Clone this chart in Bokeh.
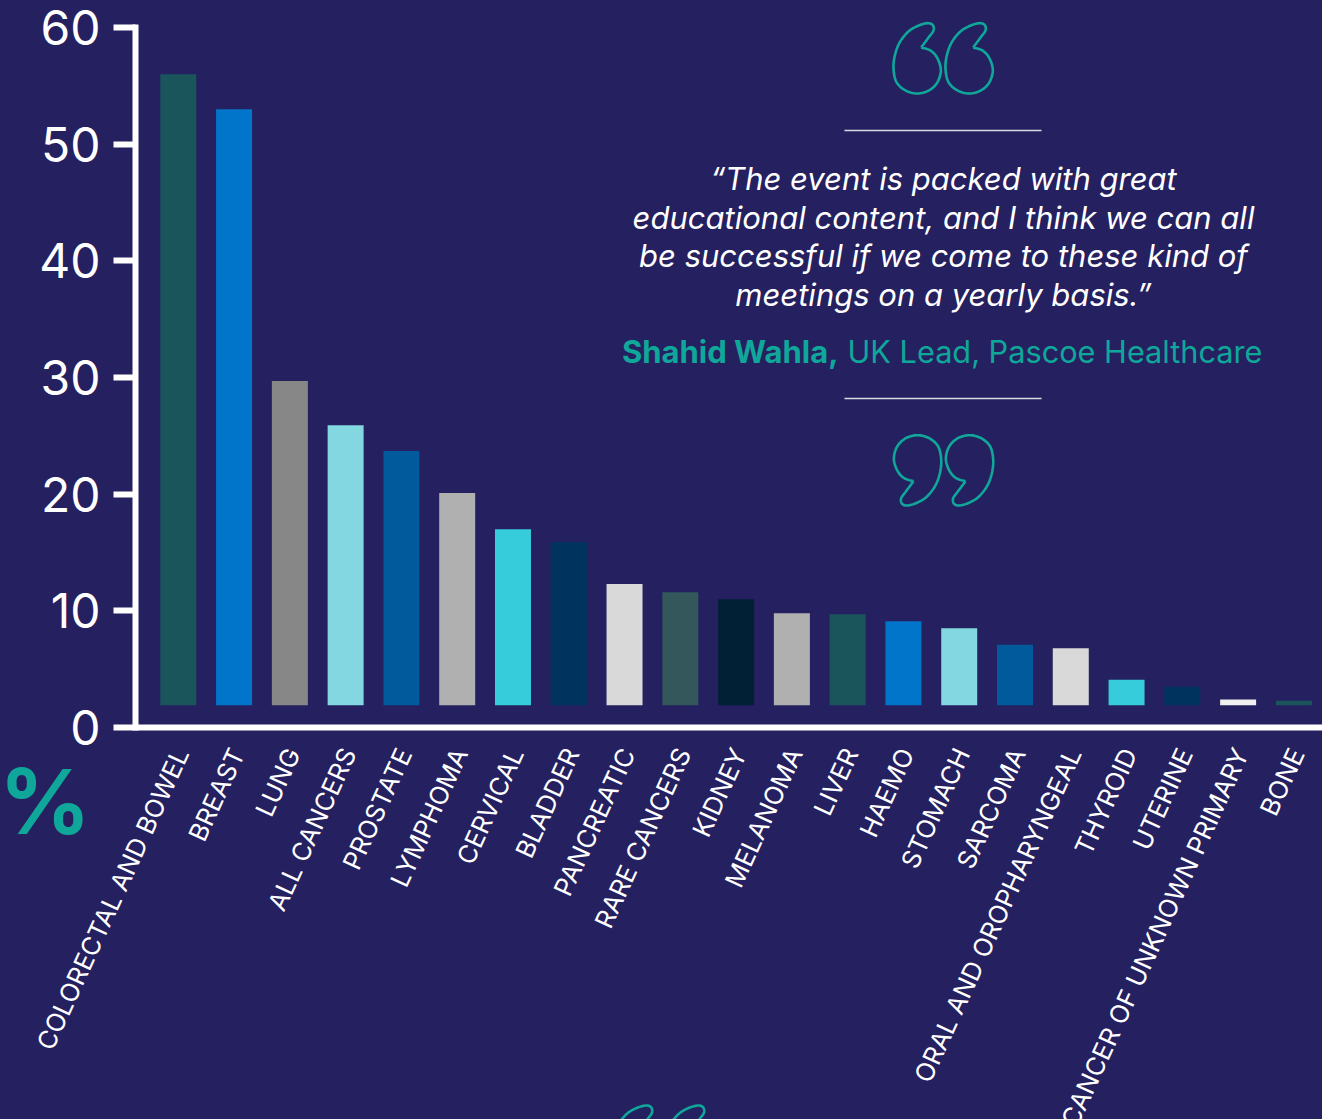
from bokeh.plotting import figure
from bokeh.models import Range1d, FixedTicker, Label
from bokeh.embed import file_html
from bokeh.resources import INLINE

categories = ["COLORECTAL AND BOWEL", "BREAST", "LUNG", "ALL CANCERS", "PROSTATE", "LYMPHOMA",
              "CERVICAL", "BLADDER", "PANCREATIC", "RARE CANCERS", "KIDNEY", "MELANOMA", "LIVER",
              "HAEMO", "STOMACH", "SARCOMA", "ORAL AND OROPHARYNGEAL", "THYROID", "UTERINE",
              "CANCER OF UNKNOWN PRIMARY", "BONE"]
values = [56.0, 53.0, 29.7, 25.9, 23.7, 20.1, 17.0, 15.9, 12.3, 11.6, 11.0, 9.8, 9.7, 9.1, 8.5,
          7.1, 6.8, 4.1, 3.5, 2.4, 2.3]
bar_colors = ["#1A555C", "#0075C9", "#878787", "#83D7E1", "#005A9C", "#B0B0B0", "#36CCDB", "#00345F",
              "#D9D9D9", "#33575B", "#012036", "#B0B0B0", "#1A555C", "#0075C9", "#83D7E1", "#005A9C",
              "#D9D9D9", "#36CCDB", "#00345F", "#F0F0F0", "#1A555C"]
y_ticks = [0, 10, 20, 30, 40, 50, 60]
quote_lines = ["\u201cThe event is packed with great", "educational content, and I think we can all",
               "be successful if we come to these kind of", "meetings on a yearly basis.\u201d"]
author = "Shahid Wahla,"
role = "UK Lead, Pascoe Healthcare"

BG = "#25205F"
TEAL = "#10A79B"
FONT = "Inter"
BAR_BASE = 1.9
LABEL_SHIFT = 0.05

W, H = 1322, 1119
AXIS_X, Y60, Y0 = 135, 27, 727
BAR0, BAR_STEP = 177.8, 55.78
y_scale = (Y0 - Y60) / 60.0


def dx(px):
    return (px - BAR0) / BAR_STEP


def dy(py):
    return (Y0 - py) / y_scale


p = figure(width=W, height=H, output_backend="svg", toolbar_location=None,
           x_range=Range1d(dx(0), dx(W)), y_range=Range1d(dy(H), dy(0)),
           min_border=0, background_fill_color=BG, border_fill_color=BG, outline_line_color=None)
p.grid.visible = False

x_idx = list(range(len(categories)))
p.vbar(x=x_idx, bottom=BAR_BASE, top=values, width=36 / BAR_STEP, color=bar_colors, line_color=None)

x_ticks = [i + LABEL_SHIFT for i in x_idx]
xa = p.xaxis[0]
xa.fixed_location = 0
xa.bounds = (dx(AXIS_X), dx(W))
xa.ticker = FixedTicker(ticks=x_ticks)
xa.major_label_overrides = dict(zip(x_ticks, categories))
xa.major_label_orientation = 1.14
xa.major_label_text_font = FONT
xa.major_label_text_font_size = "25.5px"
xa.major_label_text_color = "white"
xa.major_label_standoff = 16
xa.major_tick_line_color = None
xa.minor_tick_line_color = None
xa.axis_line_color = "white"
xa.axis_line_width = 6

ya = p.yaxis[0]
ya.fixed_location = dx(AXIS_X)
ya.bounds = (0, 60)
ya.ticker = FixedTicker(ticks=y_ticks)
ya.major_label_text_font = FONT
ya.major_label_text_font_size = "48px"
ya.major_label_text_color = "white"
ya.major_label_standoff = 13
ya.major_tick_in = 0
ya.major_tick_out = 22
ya.major_tick_line_color = "white"
ya.major_tick_line_width = 6
ya.minor_tick_line_color = None
ya.axis_line_color = "white"
ya.axis_line_width = 6
ya.axis_line_cap = "square"

# text block
for line, py in zip(quote_lines, [178, 217, 255, 294]):
    p.add_layout(Label(x=dx(943), y=dy(py), text=line, text_color="white", text_font=FONT,
                       text_font_style="italic", text_font_size="31px",
                       text_align="center", text_baseline="middle"))
p.add_layout(Label(x=dx(838), y=dy(351), text=author, text_color=TEAL, text_font=FONT,
                   text_font_style="bold", text_font_size="31px", text_align="right", text_baseline="middle"))
p.add_layout(Label(x=dx(847), y=dy(351), text=role, text_color=TEAL, text_font=FONT,
                   text_font_size="30.7px", text_align="left", text_baseline="middle"))
p.add_layout(Label(x=dx(44.5), y=dy(801), text="%", text_color=TEAL, text_font=FONT,
                   text_font_style="bold", text_font_size="90px", text_align="center", text_baseline="middle"))

# rules
p.segment(x0=[dx(844), dx(844)], y0=[dy(130), dy(398)], x1=[dx(1041), dx(1041)], y1=[dy(130), dy(398)],
          line_color="#DAD9E6", line_width=1.3)

# quote-mark outline (smoothed)
mark_ctrl = [(242, 141), (270, 150), (290, 172), (301, 208), (291, 245), (265, 270), (230, 279), (195, 270),
             (168, 245), (159, 205), (163, 165), (178, 125), (205, 92), (235, 75), (262, 68), (277, 74),
             (279, 90), (265, 110), (242, 141)]
mark_ctrl = [(840 + a / 3, b / 3) for a, b in mark_ctrl]


def smooth(pts, n=8):
    out = []
    P = [pts[0]] + pts + [pts[-1]]
    for i in range(1, len(P) - 2):
        p0, p1, p2, p3 = P[i - 1], P[i], P[i + 1], P[i + 2]
        for k in range(n):
            t = k / n
            out.append(tuple(0.5 * (2 * p1[c] + (p2[c] - p0[c]) * t + (2 * p0[c] - 5 * p1[c] + 4 * p2[c] - p3[c]) * t * t
                                    + (3 * p1[c] - p0[c] - 3 * p2[c] + p3[c]) * t ** 3) for c in (0, 1)))
    out.append(pts[-1])
    return out


mark = smooth(mark_ctrl)
paths = []
for off_x, off_y in [(0, 0), (52.0, 0), (-281.6, 1082.3), (-281.6 + 52.0, 1082.3)]:
    paths.append([(a + off_x, b + off_y) for a, b in mark])
for off in (0, 52.0):
    paths.append([(1885.7 - a - off, 527.7 - b) for a, b in mark])
p.multi_line(xs=[[dx(a) for a, b in path] for path in paths], ys=[[dy(b) for a, b in path] for path in paths],
             line_color=TEAL, line_width=2.6, line_join="round")

html = file_html(p, INLINE)
html = html.replace("<head>", "<head><style>html,body{margin:0;padding:0;overflow:hidden;background:%s}</style>" % BG, 1)
open("out.html", "w").write(html)
